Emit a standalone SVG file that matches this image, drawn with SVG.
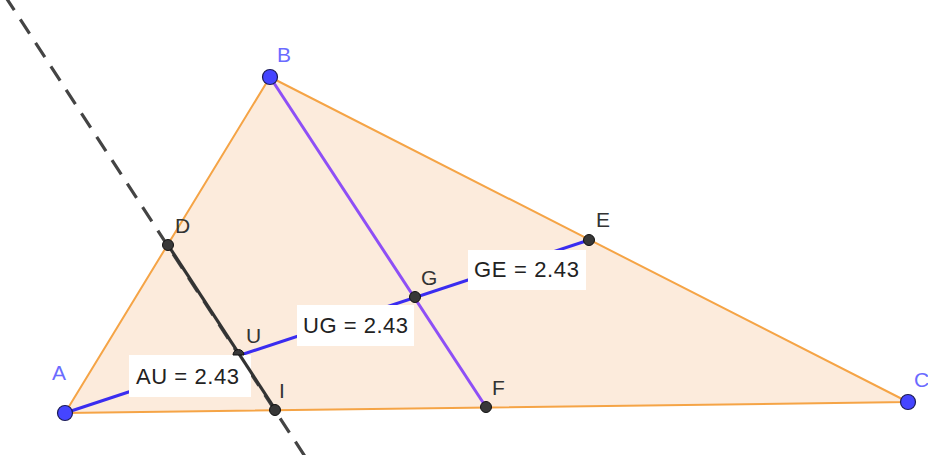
<svg xmlns="http://www.w3.org/2000/svg" width="928" height="455" viewBox="0 0 928 455">
<style>
.tri{fill:#fcebdc;stroke:#f5a446;stroke-width:2;stroke-linejoin:round}
.blue{stroke:#3a2cf0;stroke-width:3;fill:none}
.purple{stroke:#8e4ff6;stroke-width:3;fill:none}
.dash{stroke:#444;stroke-width:3.2;stroke-dasharray:17 11;fill:none}
.solid{stroke:#333;stroke-width:3.2;fill:none}
.box{fill:#fff}
.pb{fill:#4545ff;stroke:#1c1c55;stroke-width:1.2}
.pk{fill:#383838;stroke:#111;stroke-width:1}
.lb{font-family:"Liberation Sans",Arial,sans-serif;font-size:21px;fill:#6b6bff}
.lk{font-family:"Liberation Sans",Arial,sans-serif;font-size:21px;fill:#333}
.val{font-family:"Liberation Sans",Arial,sans-serif;font-size:22px;fill:#222}
</style>
<rect width="928" height="455" fill="#fff"/>
<g id="triangle"><polygon class="tri" points="65,413 270,77 908,402"/></g>
<g id="connectors">
<line class="dash" x1="5" y1="-4" x2="306" y2="458"/>
<line class="blue" x1="65" y1="413" x2="589" y2="240"/>
<rect class="box" x="129" y="355" width="122" height="42"/>
<rect class="box" x="297" y="305" width="117" height="41"/>
<rect class="box" x="468" y="250" width="118" height="40"/>
<line class="solid" x1="168" y1="245" x2="275" y2="409"/>
<line class="purple" x1="270" y1="77" x2="486" y2="407"/>
</g>
<g id="labels">
<text class="val" x="136" y="384" textLength="103">AU = 2.43</text>
<text class="val" x="303" y="333" textLength="105">UG = 2.43</text>
<text class="val" x="474" y="277" textLength="105">GE = 2.43</text>
</g>
<g id="A"><circle class="pb" cx="65" cy="413" r="7.5"/><text class="lb" x="52" y="380">A</text></g>
<g id="B"><circle class="pb" cx="270" cy="77" r="7.5"/><text class="lb" x="277" y="62">B</text></g>
<g id="C"><circle class="pb" cx="908" cy="402" r="7.5"/><text class="lb" x="914" y="387">C</text></g>
<g id="D"><circle class="pk" cx="168" cy="245" r="5.5"/><text class="lk" x="175" y="233">D</text></g>
<g id="E"><circle class="pk" cx="589" cy="240" r="5.5"/><text class="lk" x="596" y="227">E</text></g>
<g id="F"><circle class="pk" cx="486" cy="407" r="5.5"/><text class="lk" x="492" y="395">F</text></g>
<g id="G"><circle class="pk" cx="415" cy="297" r="5.5"/><text class="lk" x="421" y="285">G</text></g>
<g id="U"><path class="pk" d="M233,355 A5.5,5.5 0 0 1 244,355 Z"/><text class="lk" x="246" y="343">U</text></g>
<g id="I"><circle class="pk" cx="275" cy="410" r="5.5"/><text class="lk" x="279" y="398">I</text></g>
</svg>
